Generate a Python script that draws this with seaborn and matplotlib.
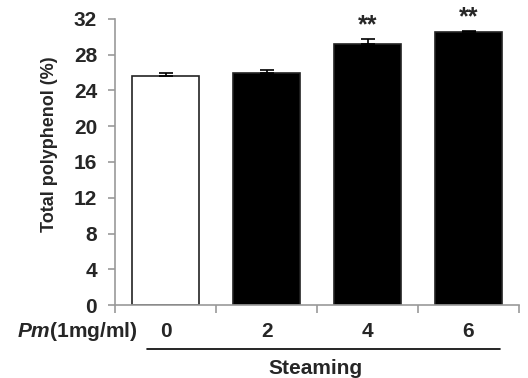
import matplotlib
matplotlib.use("Agg")
import matplotlib.pyplot as plt
import seaborn as sns
import pandas as pd
import numpy as np

# values
doses = ["0", "2", "4", "6"]
polyphenol = [25.6, 25.9, 29.2, 30.5]
sem = [0.4, 0.35, 0.55, 0.2]
signif = ["", "", "**", "**"]
bar_colors = ["white", "black", "black", "black"]

sns.set_style("ticks")
plt.rcParams["font.family"] = ["Liberation Sans", "DejaVu Sans"]
plt.rcParams["mathtext.fontset"] = "custom"
plt.rcParams["mathtext.it"] = "Liberation Sans:italic:bold"
plt.rcParams["mathtext.rm"] = "Liberation Sans:bold"

df = pd.DataFrame({"dose": doses, "value": polyphenol})

fig = plt.figure(figsize=(5.28, 3.78), dpi=100)
ax = fig.add_axes([0.218, 0.193, 0.765, 0.757])

sns.barplot(data=df, x="dose", y="value", hue="dose", palette=bar_colors,
            legend=False, width=0.67, edgecolor="#222222", linewidth=1.2,
            errorbar=None, ax=ax)
ax.errorbar(np.arange(len(doses)), polyphenol, yerr=[np.zeros(len(sem)), sem],
            fmt="none", ecolor="black", elinewidth=1.2, capsize=5, capthick=1.2)

for i, s in enumerate(signif):
    if s:
        ax.annotate(s, (i, polyphenol[i] + sem[i]), xytext=(0, 1),
                    textcoords="offset points", ha="center", va="bottom",
                    fontsize=18, fontweight="bold", annotation_clip=False)

ax.set_xlim(-0.5, 3.5)
ax.set_ylim(0, 32)
ax.set_yticks(range(0, 33, 4))
ax.set_xticks(np.arange(-0.5, 3.6, 1))
ax.set_xticklabels([])
ax.tick_params(axis="y", labelsize=15, length=5, pad=8, color="#999999", width=1.2)
ax.tick_params(axis="x", length=6, color="#999999", width=1.2)
for lab in ax.get_yticklabels():
    lab.set_fontweight("bold")
for side in ["top", "right"]:
    ax.spines[side].set_visible(False)
for side in ["left", "bottom"]:
    ax.spines[side].set_color("#999999")
    ax.spines[side].set_linewidth(1.2)

ax.set_xlabel("")
ax.set_ylabel("Total polyphenol (%)", fontsize=13, fontweight="bold")
ax.yaxis.set_label_coords(-0.141, 0.563)

# dose labels under the bars
xt = ax.get_xaxis_transform()
for i, d in enumerate(doses):
    ax.text(i, -0.094, d, transform=xt, ha="center", va="center",
            fontsize=15, fontweight="bold")
ax.text(-0.28, -0.094, r"$\mathit{Pm}$(1mg/ml)", transform=xt,
        ha="right", va="center", fontsize=15, fontweight="bold")

# steaming bracket
ax.plot([-0.18, 3.31], [-0.152, -0.152], transform=xt,
        color="black", lw=1.2, clip_on=False)
ax.text(1.48, -0.222, "Steaming", transform=xt,
        ha="center", va="center", fontsize=15, fontweight="bold")

fig.savefig("out.png", dpi=100)
